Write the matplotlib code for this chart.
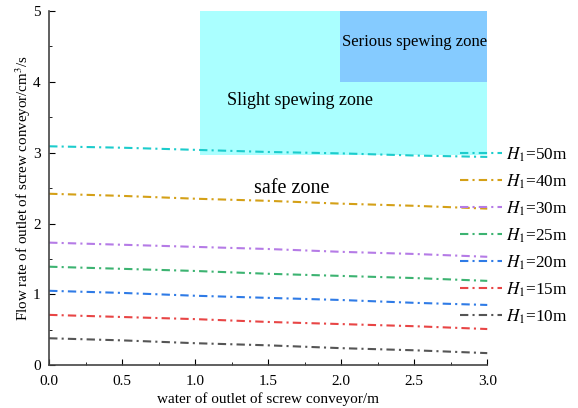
import numpy as np
import matplotlib
matplotlib.use("Agg")
import matplotlib.pyplot as plt
from matplotlib.patches import Rectangle
from matplotlib.ticker import MultipleLocator

plt.rcParams['font.family'] = ['Liberation Serif', 'DejaVu Serif']
plt.rcParams['mathtext.fontset'] = 'stix'

# data
x = [0.0, 0.5, 1.0, 1.5, 2.0, 2.5, 3.0]
heads = ['50', '40', '30', '25', '20', '15', '10']
flow = {
    '50': [3.09, 3.07, 3.04, 3.01, 2.99, 2.96, 2.94],
    '40': [2.42, 2.39, 2.35, 2.32, 2.28, 2.25, 2.21],
    '30': [1.73, 1.70, 1.67, 1.64, 1.60, 1.57, 1.53],
    '25': [1.39, 1.36, 1.33, 1.29, 1.26, 1.23, 1.19],
    '20': [1.05, 1.02, 0.98, 0.95, 0.92, 0.88, 0.85],
    '15': [0.71, 0.68, 0.65, 0.61, 0.58, 0.55, 0.51],
    '10': [0.38, 0.35, 0.31, 0.28, 0.24, 0.21, 0.17],
}
colors = ['#1ccccc', '#d4a017', '#b57be6', '#3cb371', '#2f7be6', '#e84545', '#555555']

slight = (1.03, 2.97, 3.0, 5.0)   # x0, y0, x1, y1
serious = (1.99, 4.0, 3.0, 5.0)

fig = plt.figure(figsize=(5.78, 4.08), dpi=100)
ax = fig.add_axes([0.085, 0.105, 0.758, 0.868])

ax.add_patch(Rectangle((slight[0], slight[1]), slight[2] - slight[0], slight[3] - slight[1],
                       facecolor='#aaffff', edgecolor='none', zorder=0))
ax.add_patch(Rectangle((serious[0], serious[1]), serious[2] - serious[0], serious[3] - serious[1],
                       facecolor='#85cbff', edgecolor='none', zorder=0))

for h, c in zip(heads, colors):
    ax.plot(x, flow[h], color=c, lw=1.5, ls=(0, (4, 2, 1, 2)),
            label=r'$H_1$=' + h + 'm', clip_on=False)

ax.text(1.72, 3.74, 'Slight spewing zone', fontsize=13, ha='center', va='center')
ax.text(2.5, 4.56, 'Serious spewing zone', fontsize=12, ha='center', va='center')
ax.text(1.66, 2.5, 'safe zone', fontsize=14.5, ha='center', va='center')

ax.set_xlim(0, 3.0)
ax.set_ylim(0, 5)
ax.xaxis.set_major_locator(MultipleLocator(0.5))
ax.xaxis.set_minor_locator(MultipleLocator(0.25))
ax.yaxis.set_major_locator(MultipleLocator(1))
ax.yaxis.set_minor_locator(MultipleLocator(0.5))
ax.xaxis.set_major_formatter(matplotlib.ticker.FormatStrFormatter('%.1f'))
ax.tick_params(which='both', direction='in', labelsize=11)
ax.tick_params(which='major', length=4)
ax.tick_params(which='minor', length=2.5)
ax.tick_params(axis='x', pad=7)
ax.tick_params(axis='y', pad=6)
for s in ['top', 'right']:
    ax.spines[s].set_visible(False)
for s in ['left', 'bottom']:
    ax.spines[s].set_color('#444444')
    ax.spines[s].set_linewidth(1.2)

ax.set_xlabel('water of outlet of screw conveyor/m', fontsize=11, labelpad=3)
ax.set_ylabel('Flow rate of outlet of screw conveyor/cm$^3$/s', fontsize=10.8, labelpad=0)

ax.legend(loc='upper left', bbox_to_anchor=(0.922, 0.64), frameon=False, fontsize=12.4,
          handlelength=2.45, handletextpad=0.23, labelspacing=0.5, borderaxespad=0)

fig.savefig('out.png', dpi=100)
